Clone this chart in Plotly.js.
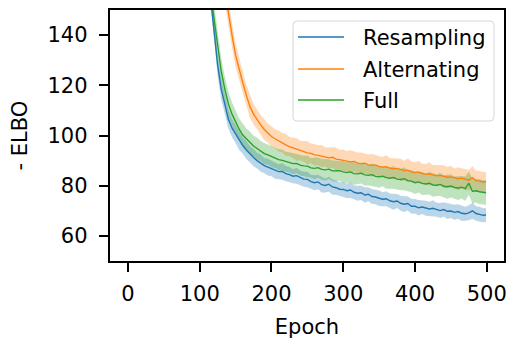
<!DOCTYPE html>
<html>
<head>
<meta charset="utf-8">
<script src="https://cdn.plot.ly/plotly-3.0.1.min.js"></script>
<style>html,body{margin:0;padding:0;background:#fff;}#chart{width:509px;height:340px;}</style>
</head>
<body>
<div id="chart"></div>
<script>
const epochs = [0,20,40,60,80,
100,105,110,115,120,125,130,135,140,145,
150,155,160,165,170,175,180,185,190,195,
200,205,210,215,220,225,230,235,240,245,
250,255,260,265,270,275,280,285,290,295,
300,305,310,315,320,325,330,335,340,345,
350,355,360,365,370,375,380,385,390,395,
400,405,410,415,420,425,430,435,440,445,
450,455,460,465,470,475,480,485,490,495,
499];

const seriesNames = ["Resampling", "Alternating", "Full"];

const resamplingMean = [520,420,340,280,230,
192,180,168,155,142,128,118.5,112,106.5,103,
100.5,98,96,94.2,92.5,91.2,90,89,88,87.4,
86.8,86.0,85.6,85.7,84.8,84.4,83.8,84.0,83.2,82.6,
82.5,81.6,81.2,81.5,80.4,80.1,80.6,79.5,79.2,78.6,
78.5,78.0,78.3,77.4,77.0,77.2,76.3,76.6,75.7,75.5,
75.0,74.6,74.8,74.0,73.6,73.9,73.0,72.6,72.9,71.8,
71.8,71.2,71.5,71.0,70.7,71.0,70.4,70.1,70.5,69.8,
69.9,69.4,69.7,69.0,68.8,69.2,70.0,68.9,68.6,68.2,
68.3];
const resamplingSd = [20,16,12,10,8,
7,6.5,6,5.5,5,4.5,4.2,4,3.8,3.6,
3.5,3.8,3.3,3.6,3.2,3.5,3.1,3.4,3.0,3.3,
3.0,3.2,2.9,3.3,3.0,3.1,2.8,3.2,2.9,3.0,
3.1,2.8,3.0,2.9,3.2,2.8,3.0,3.1,2.8,2.9,
3.0,2.9,3.2,2.8,3.0,2.9,3.1,2.8,3.0,2.9,
3.1,2.8,3.0,2.9,3.2,2.8,3.0,3.1,2.8,3.0,
2.9,3.1,2.8,3.0,2.9,3.2,2.8,3.0,2.9,3.1,
2.8,3.0,2.9,3.1,2.8,3.0,3.2,2.9,3.0,2.8,
2.8];

const alternatingMean = [600,500,420,350,290,
240,225,212,200,190,179,168,158,148,140,
132,126,121,116,111.5,108.5,106.2,104.2,102.4,100.9,
99.6,98.7,97.8,97.1,96.3,95.6,95.1,94.4,94.0,93.7,
93.1,92.9,92.3,92.1,91.8,91.4,91.1,91.3,90.6,90.4,
90.2,89.8,89.5,89.7,89.0,88.8,89.0,88.3,88.1,88.3,
87.6,87.4,87.6,87.0,86.7,86.9,86.3,86.0,86.2,85.5,
85.2,85.4,84.8,84.5,84.7,84.2,83.9,84.1,83.6,83.4,
83.5,83.0,82.8,83.0,82.5,82.2,83.2,82.0,81.8,81.5,
81.6];
const alternatingSd = [25,20,15,12,10,
9,8.5,8,7.5,7,6.5,6,5.6,5.2,5,
4.8,4.6,4.4,4.2,4.5,4.0,4.3,3.9,4.2,3.8,
4.1,3.8,4.2,3.9,4.4,3.8,4.1,4.5,3.9,4.2,
4.6,3.9,4.3,4.0,4.4,3.8,4.2,4.0,4.5,3.9,
4.2,4.0,4.6,3.9,4.2,4.4,3.9,4.1,4.5,3.9,
4.3,4.0,4.6,3.9,4.2,4.0,4.4,3.9,4.7,4.0,
4.2,4.4,3.9,4.1,4.6,4.0,4.2,3.9,4.5,4.1,
4.3,3.9,4.6,4.0,4.2,4.1,4.5,4.0,4.2,3.9,
4.0];

const fullMean = [540,440,350,290,240,
198,186,173,157,147,136,125.5,118.5,112.5,108.5,
105.5,102.5,100.2,98.6,97.2,95.8,94.8,93.8,92.8,92.3,
91.6,91.0,90.4,90.1,89.6,89.3,88.8,88.9,88.2,87.9,
87.8,87.1,86.9,87.2,86.5,86.3,86.6,85.9,85.8,86.0,
85.5,85.2,85.5,84.8,84.7,85.0,84.3,84.1,84.4,83.7,
83.5,83.8,83.2,83.0,83.3,82.6,82.5,82.8,82.0,81.8,
81.2,81.5,80.9,80.7,81.0,80.3,80.2,80.5,79.8,79.6,
79.9,79.3,79.1,79.4,78.8,81.0,77.8,78.0,77.6,77.4,
77.2];
const fullSd = [22,18,14,11,9,
8,7.5,7,6.5,6,5.5,5.2,5,4.8,4.6,
4.5,4.3,4.6,4.2,4.4,4.1,4.3,4.0,4.2,4.0,
4.2,3.9,4.1,4.3,3.9,4.0,4.2,3.9,4.1,4.0,
4.2,3.9,4.3,4.0,4.1,4.3,3.9,4.1,4.2,4.0,
4.3,4.0,4.2,4.4,4.0,4.1,4.3,4.0,4.5,4.1,
4.3,4.0,4.4,4.2,4.5,4.1,4.3,4.6,4.2,4.4,
4.5,4.2,4.6,4.3,4.5,4.7,4.3,4.6,4.4,4.8,
4.6,4.4,4.8,4.5,4.9,4.6,5.0,4.7,5.0,4.8,
5.0];

const xTicks = [0,100,200,300,400,500];
const yTicks = [60,80,100,120,140];

const colors = ["#1f77b4", "#ff7f0e", "#2ca02c"];
const fills = ["rgba(31,119,180,0.3)", "rgba(255,127,14,0.3)", "rgba(44,160,44,0.3)"];
const means = [resamplingMean, alternatingMean, fullMean];
const sds = [resamplingSd, alternatingSd, fullSd];

const traces = [];
means.forEach((m, i) => {
  const upper = m.map((v, k) => v + sds[i][k]);
  const lower = m.map((v, k) => v - sds[i][k]);
  traces.push({
    x: epochs.concat(epochs.slice().reverse()),
    y: upper.concat(lower.slice().reverse()),
    type: "scatter", mode: "lines", fill: "toself",
    fillcolor: fills[i], line: {width: 0, color: "rgba(0,0,0,0)"},
    showlegend: false, hoverinfo: "skip"
  });
});
means.forEach((m, i) => {
  traces.push({
    x: epochs, y: m, type: "scatter", mode: "lines",
    name: seriesNames[i], line: {color: colors[i], width: 1.4},
    showlegend: false
  });
});

// legend drawn as shapes/annotations in paper coordinates (pixel helper)
const W = 509, H = 340;
const M = {l: 110, r: 5, t: 10, b: 79};
const pw = W - M.l - M.r, ph = H - M.t - M.b;
const px = v => (v - M.l) / pw;
const py = v => (H - M.b - v) / ph;

const shapes = [];
const annotations = [];
const bx0 = 293, bx1 = 494, by0 = 21, by1 = 121, rr = 4;
shapes.push({
  type: "path", xref: "paper", yref: "paper",
  path: `M${px(bx0 + rr)},${py(by0)} L${px(bx1 - rr)},${py(by0)} Q${px(bx1)},${py(by0)} ${px(bx1)},${py(by0 + rr)} ` +
        `L${px(bx1)},${py(by1 - rr)} Q${px(bx1)},${py(by1)} ${px(bx1 - rr)},${py(by1)} ` +
        `L${px(bx0 + rr)},${py(by1)} Q${px(bx0)},${py(by1)} ${px(bx0)},${py(by1 - rr)} ` +
        `L${px(bx0)},${py(by0 + rr)} Q${px(bx0)},${py(by0)} ${px(bx0 + rr)},${py(by0)} Z`,
  fillcolor: "rgba(255,255,255,0.8)", line: {color: "rgba(204,204,204,0.8)", width: 1}
});
const rowY = [37, 69, 100];
seriesNames.forEach((n, i) => {
  shapes.push({type: "line", xref: "paper", yref: "paper",
    x0: px(298), x1: px(344), y0: py(rowY[i]), y1: py(rowY[i]),
    line: {color: colors[i], width: 1.6}});
  annotations.push({xref: "paper", yref: "paper", x: px(361), y: py(rowY[i] + 1),
    xanchor: "left", yanchor: "middle", showarrow: false, text: n,
    font: {family: "DejaVu Sans, sans-serif", size: 21, color: "#000"}});
});

const font = {family: "DejaVu Sans, sans-serif", size: 21, color: "#000"};
const layout = {
  width: W, height: H,
  margin: {l: M.l, r: M.r, t: M.t, b: M.b, pad: 0},
  paper_bgcolor: "#fff", plot_bgcolor: "#fff",
  font: font,
  showlegend: false,
  shapes: shapes,
  annotations: annotations,
  xaxis: {
    range: [-25, 524], tickvals: xTicks, ticktext: xTicks.map(String),
    showgrid: false, zeroline: false, showline: true, mirror: true,
    linecolor: "#000", linewidth: 2.2, ticks: "outside", ticklen: 9, tickwidth: 2, tickcolor: "#000",
    ticklabelstandoff: 4,
    title: {text: "Epoch", font: font, standoff: 14}, automargin: false
  },
  yaxis: {
    range: [50, 150], tickvals: yTicks, ticktext: yTicks.map(String),
    showgrid: false, zeroline: false, showline: true, mirror: true,
    linecolor: "#000", linewidth: 2.2, ticks: "outside", ticklen: 9, tickwidth: 2, tickcolor: "#000",
    ticklabelstandoff: 7,
    title: {text: "- ELBO", font: font, standoff: 14}, automargin: false
  }
};

Plotly.newPlot("chart", traces, layout, {staticPlot: true, displayModeBar: false});
</script>
</body>
</html>
